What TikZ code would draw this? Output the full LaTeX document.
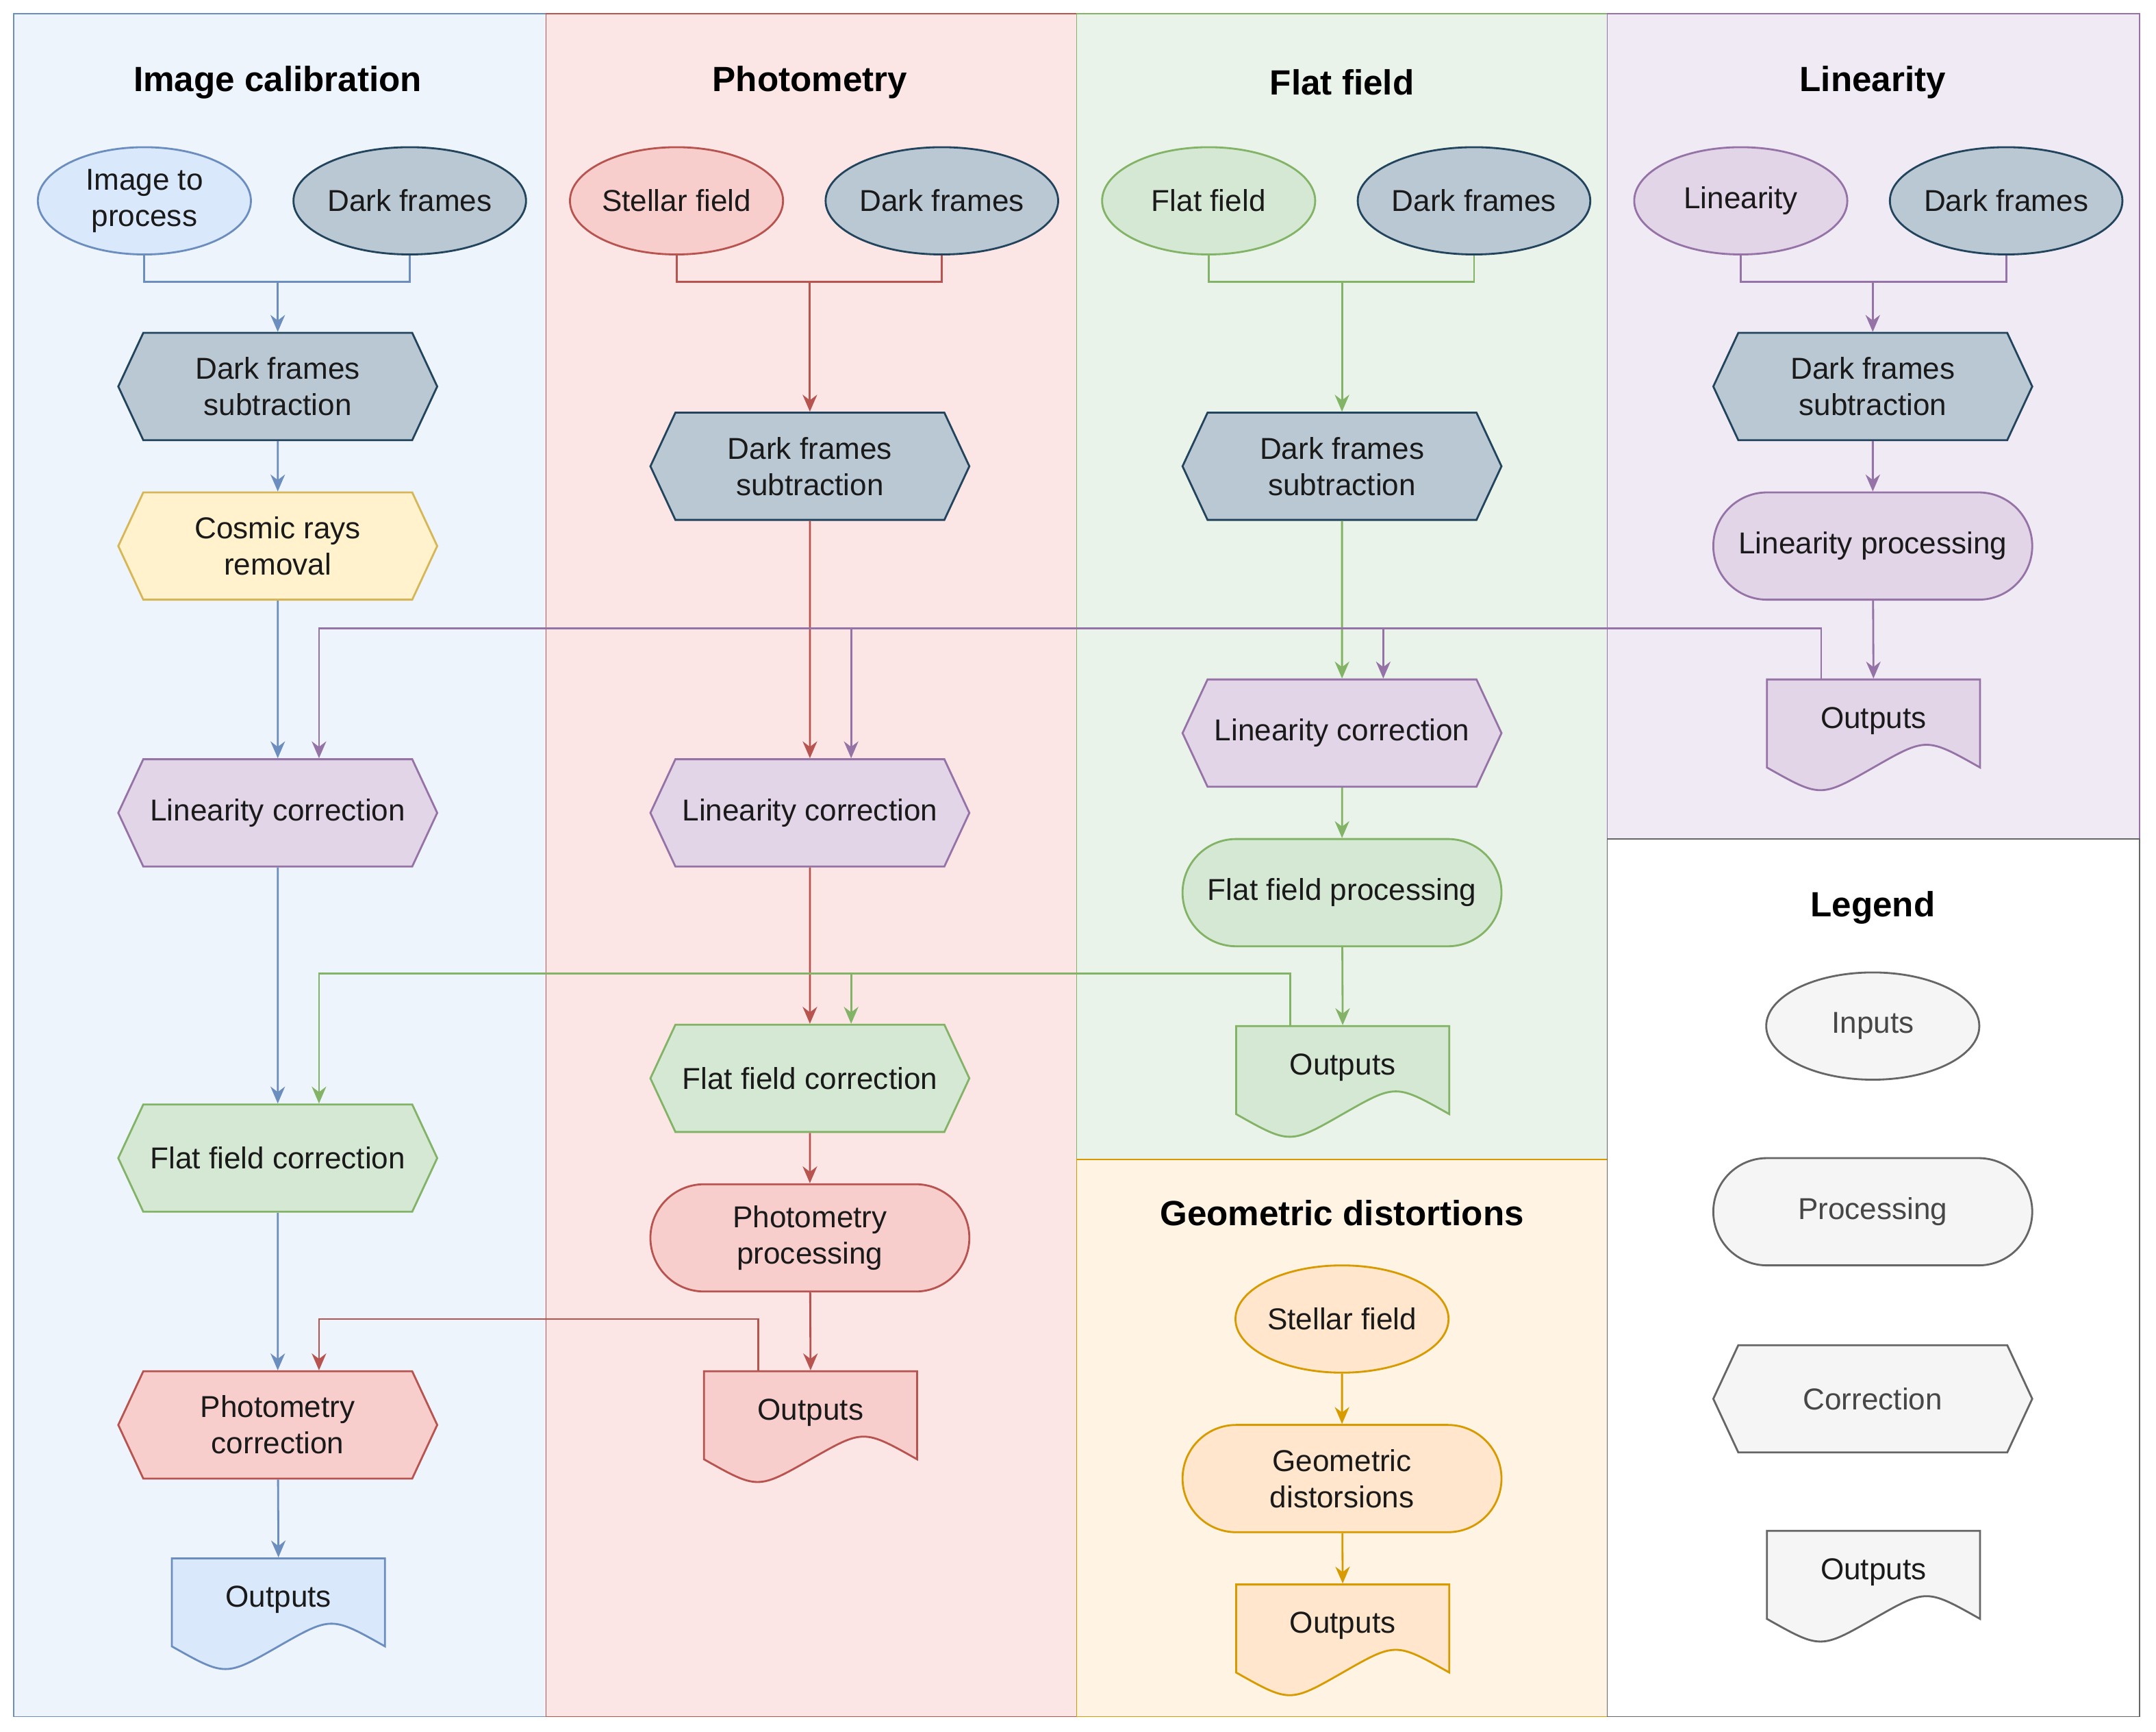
\documentclass[tikz,border=0pt]{standalone}
\usepackage{fontspec}
\setmainfont{Liberation Sans}
\usetikzlibrary{shapes.geometric,shapes.misc,shapes.symbols,calc,arrows.meta}
\definecolor{bgB}{HTML}{EEF4FC}\definecolor{bdB}{HTML}{6C8EBF}\definecolor{fB}{HTML}{DAE8FC}
\definecolor{bgR}{HTML}{FBE5E5}\definecolor{bdR}{HTML}{B85450}\definecolor{fR}{HTML}{F8CECC}
\definecolor{bgG}{HTML}{EAF3E9}\definecolor{bdG}{HTML}{82B366}\definecolor{fG}{HTML}{D5E8D4}
\definecolor{bgP}{HTML}{F0EAF4}\definecolor{bdP}{HTML}{9673A6}\definecolor{fP}{HTML}{E1D5E7}
\definecolor{bgO}{HTML}{FFF3E3}\definecolor{bdO}{HTML}{D79B00}\definecolor{fO}{HTML}{FFE6CC}
\definecolor{fY}{HTML}{FFF2CC}\definecolor{bdY}{HTML}{D6B656}
\definecolor{fD}{HTML}{BAC8D3}\definecolor{bdD}{HTML}{23445D}
\definecolor{fL}{HTML}{F5F5F5}\definecolor{bdL}{HTML}{666666}
\definecolor{txt}{HTML}{1A1A1A}
\newcommand\outdoc[5]{%
\draw[line width=0.8pt,#4] (#2,#3) -- ({#2+155},#3) -- ({#2+155},{#3+64})
  .. controls ({#2+116},{#3+42}) .. ({#2+77.5},{#3+64})
  .. controls ({#2+39},{#3+86}) .. (#2,{#3+64}) -- cycle;
\node[rectangle,minimum width=3.1cm,minimum height=1.2cm,inner sep=0] (#1) at ({#2+77.5},{#3+30}) {#5};}
\begin{document}
\begin{tikzpicture}[x=0.02cm,y=-0.02cm,font=\fontsize{12.5}{15}\selectfont,text=txt,
 every node/.style={line width=0.8pt},
 ell/.style={ellipse,minimum width=3.1cm,minimum height=1.56cm,inner sep=0,align=center},
 hex/.style={signal,signal to=east and west,signal pointer angle=130,minimum width=4.64cm,minimum height=1.56cm,inner sep=0,align=center},
 proc/.style={rounded rectangle,minimum width=4.64cm,minimum height=1.56cm,inner sep=0,align=center},
 ttl/.style={font=\fontsize{14.5}{17}\selectfont\bfseries,text=black},
 B/.style={fill=fB,draw=bdB},R/.style={fill=fR,draw=bdR},G/.style={fill=fG,draw=bdG},
 P/.style={fill=fP,draw=bdP},O/.style={fill=fO,draw=bdO},Y/.style={fill=fY,draw=bdY},
 D/.style={fill=fD,draw=bdD},L/.style={fill=fL,draw=bdL,text=bdL!70!black},
 ar/.style={line width=0.8pt,-{Stealth[length=7pt,width=6pt]}},
 ln/.style={line width=0.8pt}]
\useasboundingbox (0,0) rectangle (1568,1259);
% lanes
\draw[fill=bgB,draw=bdB] (10,10) rectangle (397,1248);
\draw[fill=bgR,draw=bdR] (397,10) rectangle (783,1248);
\draw[fill=bgG,draw=bdG] (783,10) rectangle (1169,843);
\draw[fill=bgO,draw=bdO] (783,843) rectangle (1169,1248);
\draw[fill=bgP,draw=bdP] (1169,10) rectangle (1556,610);
\draw[fill=white,draw=bdL] (1169,610) rectangle (1556,1248);
\node[ttl] (t1) at (202,60) {Image calibration};
\node[ttl] (t2) at (589,60) {Photometry};
\node[ttl] (t3) at (976,60) {Flat field};
\node[ttl] (t4) at (1362,60) {Linearity};
\node[ttl] (t5) at (976,882) {Geometric distortions};
\node[ttl] (t6) at (1362,660) {Legend};
% column 1
\node[ell,B] (i1) at (105,146) {Image to\\process};
\node[ell,D] (d1) at (298,146) {Dark frames};
\node[hex,D] (s1) at (202,281) {Dark frames\\subtraction};
\node[hex,Y] (c1) at (202,397) {Cosmic rays\\removal};
\node[hex,P] (lin1) at (202,591) {Linearity correction};
\node[hex,G] (ff1) at (202,842) {Flat field correction};
\node[hex,R] (ph1) at (202,1036) {Photometry\\correction};
\outdoc{o1}{125}{1133}{B}{Outputs}
% column 2
\node[ell,R] (i2) at (492,146) {Stellar field};
\node[ell,D] (d2) at (685,146) {Dark frames};
\node[hex,D] (s2) at (589,339) {Dark frames\\subtraction};
\node[hex,P] (lin2) at (589,591) {Linearity correction};
\node[hex,G] (ff2) at (589,784) {Flat field correction};
\node[proc,R] (pp2) at (589,900) {Photometry\\processing};
\outdoc{o2}{512}{997}{R}{Outputs}
% column 3
\node[ell,G] (i3) at (879,146) {Flat field};
\node[ell,D] (d3) at (1072,146) {Dark frames};
\node[hex,D] (s3) at (976,339) {Dark frames\\subtraction};
\node[hex,P] (lin3) at (976,533) {Linearity correction};
\node[proc,G] (fp3) at (976,649) {Flat field processing};
\outdoc{o3}{899}{746}{G}{Outputs}
% column 4
\node[ell,P] (i4) at (1266,146) {Linearity};
\node[ell,D] (d4) at (1459,146) {Dark frames};
\node[hex,D] (s4) at (1362,281) {Dark frames\\subtraction};
\node[proc,P] (lp4) at (1362,397) {Linearity processing};
\outdoc{o4}{1285}{494}{P}{Outputs}
% geometric
\node[ell,O] (i5) at (976,959) {Stellar field};
\node[proc,O] (gp5) at (976,1075) {Geometric\\distorsions};
\outdoc{o5}{899}{1152}{O}{Outputs}
% legend
\node[ell,L] (lg1) at (1362,746) {Inputs};
\node[proc,L] (lg2) at (1362,881) {Processing};
\node[hex,L] (lg3) at (1362,1017) {Correction};
\outdoc{lg4}{1285}{1113}{L}{Outputs}
% merges
\coordinate (m1) at (202,205);\coordinate (m2) at (589,205);
\coordinate (m3) at (976,205);\coordinate (m4) at (1362,205);
\draw[ln,bdB] (i1.south) |- (m1) -| (d1.south);\draw[ar,bdB] (m1) -- (s1.north);
\draw[ln,bdR] (i2.south) |- (m2) -| (d2.south);\draw[ar,bdR] (m2) -- (s2.north);
\draw[ln,bdG] (i3.south) |- (m3) -| (d3.south);\draw[ar,bdG] (m3) -- (s3.north);
\draw[ln,bdP] (i4.south) |- (m4) -| (d4.south);\draw[ar,bdP] (m4) -- (s4.north);
% chains
\draw[ar,bdB] (s1) -- (c1);\draw[ar,bdB] (c1) -- (lin1);\draw[ar,bdB] (lin1) -- (ff1);
\draw[ar,bdB] (ff1) -- (ph1);\draw[ar,bdB] (ph1) -- (o1.north);
\draw[ar,bdR] (s2) -- (lin2);\draw[ar,bdR] (lin2) -- (ff2);\draw[ar,bdR] (ff2) -- (pp2);\draw[ar,bdR] (pp2) -- (o2.north);
\draw[ar,bdG] (s3) -- (lin3);\draw[ar,bdG] (lin3) -- (fp3);\draw[ar,bdG] (fp3) -- (o3.north);
\draw[ar,bdP] (s4) -- (lp4);\draw[ar,bdP] (lp4) -- (o4.north);
\draw[ar,bdO] (i5) -- (gp5);\draw[ar,bdO] (gp5) -- (o5.north);
% linearity feed
\coordinate (pj) at (0,457);
\coordinate (l1t) at ($(lin1.north)+(30,0)$);\coordinate (l2t) at ($(lin2.north)+(30,0)$);\coordinate (l3t) at ($(lin3.north)+(30,0)$);
\draw[ar,bdP] ($(o4.north)+(-38,0)$) |- (l1t |- pj) -- (l1t);
\draw[ar,bdP] (l2t |- pj) -- (l2t);
\draw[ar,bdP] (l3t |- pj) -- (l3t);
% flat feed
\coordinate (gj) at (0,708);
\coordinate (f1t) at ($(ff1.north)+(30,0)$);\coordinate (f2t) at ($(ff2.north)+(30,0)$);
\draw[ar,bdG] ($(o3.north)+(-38,0)$) |- (f1t |- gj) -- (f1t);
\draw[ar,bdG] (f2t |- gj) -- (f2t);
% photometry feed
\coordinate (rj) at (0,959);
\coordinate (p1t) at ($(ph1.north)+(30,0)$);
\draw[ar,bdR] ($(o2.north)+(-38,0)$) |- (p1t |- rj) -- (p1t);
\end{tikzpicture}
\end{document}
